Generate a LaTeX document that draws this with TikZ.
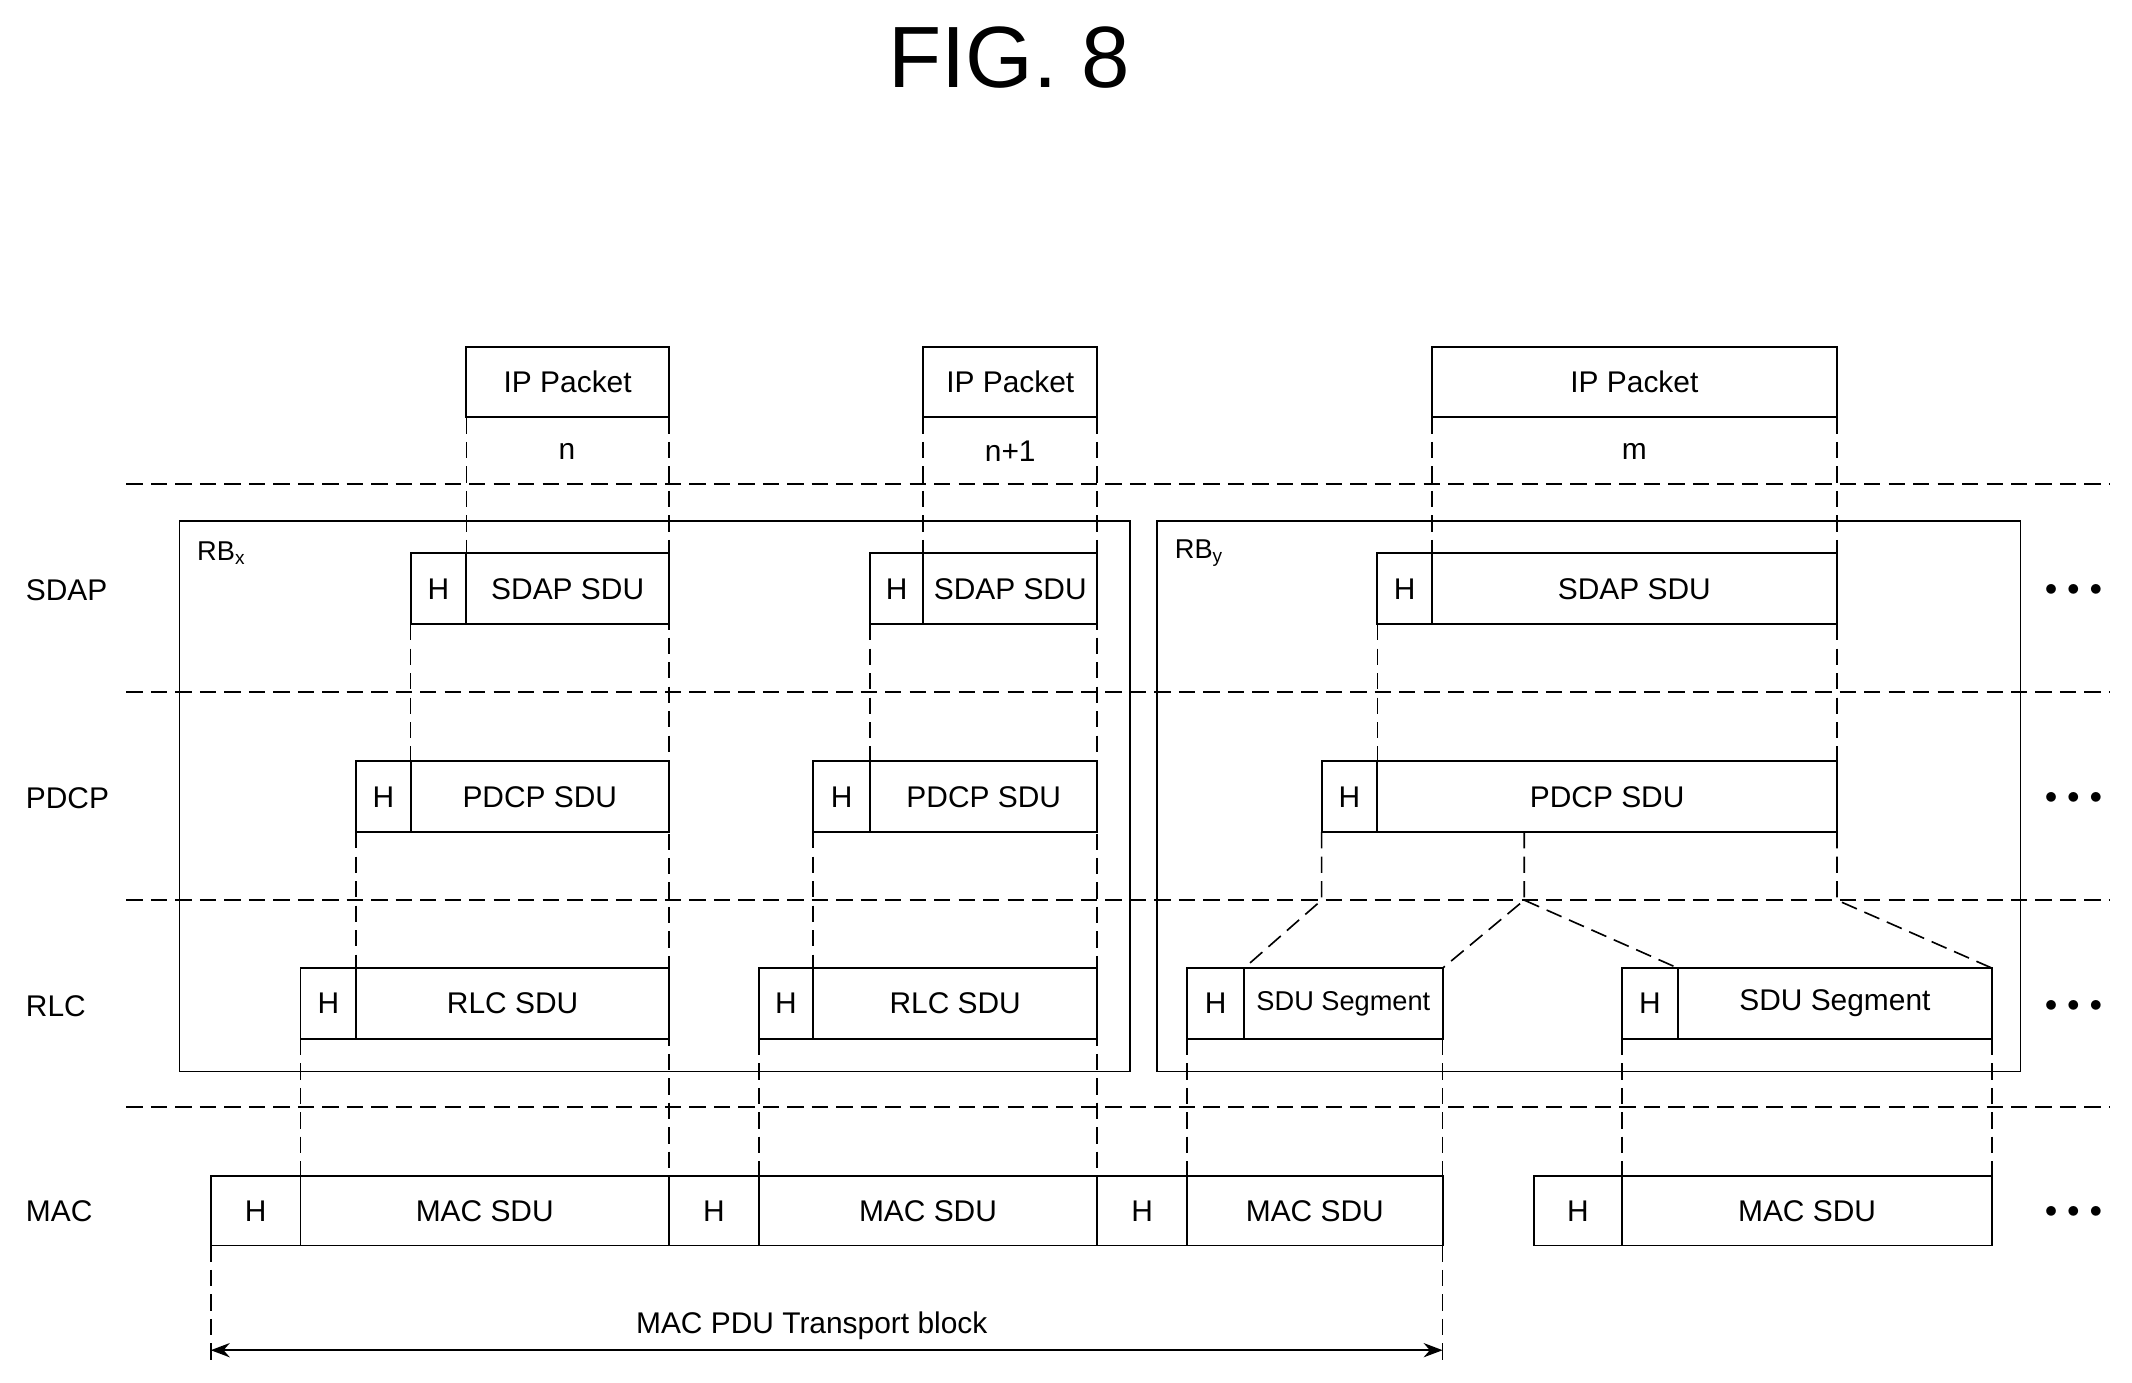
\documentclass[tikz,border=0pt]{standalone}
\usepackage{fontspec}
\setmainfont{Liberation Sans}
\usetikzlibrary{arrows.meta}
\begin{document}
\begin{tikzpicture}[x=0.5pt,y=-0.5pt,
  box/.style={draw,line width=0.7pt,inner sep=0pt,font=\fontsize{11}{13}\selectfont},
  dl/.style={dashed,line width=0.6pt,dash pattern=on 6pt off 3pt},
  lab/.style={font=\fontsize{11}{13}\selectfont,anchor=west},
  dots/.style={font=\fontsize{9}{10}\selectfont}]
\useasboundingbox (0,0) rectangle (1568,1017);
\node[font=\fontsize{32}{36}\selectfont] (title) at (742,42) {FIG. 8};
\foreach \y in {356,509,662,814} \draw[dl] (93,\y) -- (1552,\y);
\draw[line width=0.7pt] (132,383) rectangle (831,788);
\draw[line width=0.7pt] (851,383) rectangle (1486,788);
\node[lab,font=\fontsize{10}{12}\selectfont] (rbx) at (138,407) {RB\textsubscript{x}};
\node[lab,font=\fontsize{10}{12}\selectfont] (rby) at (857,407) {RB\textsubscript{y}};
\node[lab] (l1) at (12,434) {SDAP};
\node[lab] (l2) at (12,587) {PDCP};
\node[lab] (l3) at (12,740) {RLC};
\node[lab] (l4) at (12,891) {MAC};
\foreach \y/\n in {434/d1,587/d2,740/d3,891/d4} \node[dots] (\n) at (1525,\y) {$\bullet\,\bullet\,\bullet$};
\newcommand{\bx}[6]{\node[box,minimum width=#3*0.5pt-#2*0.5pt,minimum height=#5*0.5pt-#4*0.5pt] (#1) at ({(#2+#3)/2},{(#4+#5)/2}) {#6};}
\bx{ip1}{343}{492}{255}{307}{IP Packet}
\bx{ip2}{679}{807}{255}{307}{IP Packet}
\bx{ip3}{1053}{1351}{255}{307}{IP Packet}
\node[box,draw=none] (n1) at (417,332) {n};
\node[box,draw=none] (n2) at (743,332) {n+1};
\node[box,draw=none] (n3) at (1202,332) {m};
\bx{sh1}{302}{343}{407}{459}{H}\bx{ss1}{343}{492}{407}{459}{SDAP SDU}
\bx{sh2}{640}{679}{407}{459}{H}\bx{ss2}{679}{807}{407}{459}{SDAP SDU}
\bx{sh3}{1013}{1053}{407}{459}{H}\bx{ss3}{1053}{1351}{407}{459}{SDAP SDU}
\bx{ph1}{262}{302}{560}{612}{H}\bx{ps1}{302}{492}{560}{612}{PDCP SDU}
\bx{ph2}{598}{640}{560}{612}{H}\bx{ps2}{640}{807}{560}{612}{PDCP SDU}
\bx{ph3}{972}{1013}{560}{612}{H}\bx{ps3}{1013}{1351}{560}{612}{PDCP SDU}
\bx{rh1}{221}{262}{712}{764}{H}\bx{rs1}{262}{492}{712}{764}{RLC SDU}
\bx{rh2}{558}{598}{712}{764}{H}\bx{rs2}{598}{807}{712}{764}{RLC SDU}
\bx{rh3}{873}{915}{712}{764}{H}\bx{rs3}{915}{1061}{712}{764}{\fontsize{10}{12}\selectfont SDU Segment}
\bx{rh4}{1193}{1234}{712}{764}{H}\bx{rs4}{1234}{1465}{712}{764}{SDU Segment}
\bx{mh1}{155}{221}{865}{916}{H}\bx{ms1}{221}{492}{865}{916}{MAC SDU}
\bx{mh2}{492}{558}{865}{916}{H}\bx{ms2}{558}{807}{865}{916}{MAC SDU}
\bx{mh3}{807}{873}{865}{916}{H}\bx{ms3}{873}{1061}{865}{916}{MAC SDU}
\bx{mh4}{1128}{1193}{865}{916}{H}\bx{ms4}{1193}{1465}{865}{916}{MAC SDU}
\draw[dl] (343,307) -- (343,407);
\draw[dl] (492,307) -- (492,865);
\draw[dl] (302,459) -- (302,560);
\draw[dl] (262,612) -- (262,712);
\draw[dl] (221,764) -- (221,865);
\draw[dl] (679,307) -- (679,407);
\draw[dl] (807,307) -- (807,865);
\draw[dl] (640,459) -- (640,560);
\draw[dl] (598,612) -- (598,712);
\draw[dl] (558,764) -- (558,865);
\draw[dl] (1053,307) -- (1053,407);
\draw[dl] (1351,307) -- (1351,407);
\draw[dl] (1351,459) -- (1351,560);
\draw[dl] (1013,459) -- (1013,560);
\draw[dl] (972,612) -- (972,662) -- (915,712);
\draw[dl] (1121,612) -- (1121,662) -- (1061,712);
\draw[dl] (1121,662) -- (1234,712);
\draw[dl] (1351,612) -- (1351,662) -- (1465,712);
\draw[dl] (873,764) -- (873,865);
\draw[dl] (1061,764) -- (1061,865);
\draw[dl] (1193,764) -- (1193,865);
\draw[dl] (1465,764) -- (1465,865);
\draw[dl] (155,916) -- (155,1000);
\draw[dl] (1061,916) -- (1061,1000);
\coordinate (a1) at (155,993); \coordinate (a2) at (1061,993);
\draw[line width=0.6pt,{Stealth[length=7pt]}-{Stealth[length=7pt]}] (a1) -- (a2);
\node[box,draw=none] (mpdu) at (597,975) {MAC PDU Transport block};
\end{tikzpicture}
\end{document}
